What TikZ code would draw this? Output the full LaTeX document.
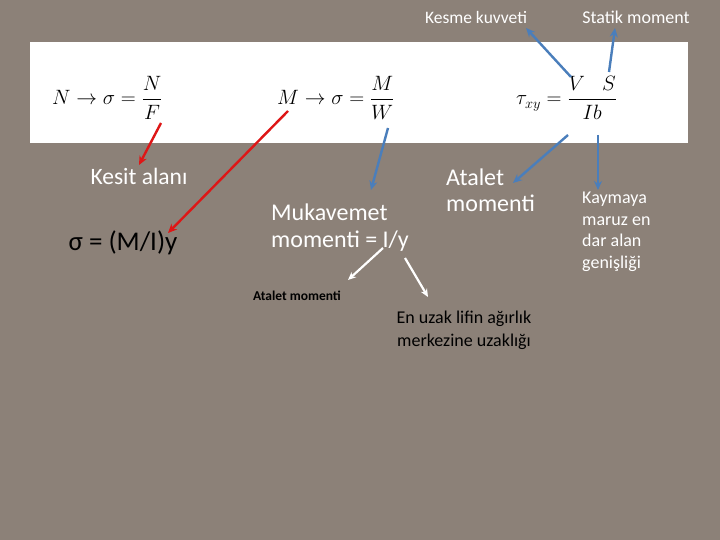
\documentclass[tikz,border=0pt]{standalone}
\usepackage{amsmath}
\usepackage{fontspec}
\setmainfont{Carlito}
\usetikzlibrary{arrows.meta}
\definecolor{granite}{RGB}{140,129,120}
\definecolor{arrred}{RGB}{222,22,22}
\definecolor{arrblue}{RGB}{74,126,187}
\tikzset{
  lbl/.style={text=white, inner sep=0pt},
  dark/.style={text=black, inner sep=0pt},
  eqn/.style={text=black, inner sep=0pt, font=\fontsize{20}{24}\selectfont},
  redarr/.style={draw=arrred, line width=2.4pt, -{Stealth[length=9pt,width=8pt]}},
  bluearr/.style={draw=arrblue, line width=2.4pt, -{Stealth[length=9pt,width=8pt]}},
  whitearr/.style={draw=white, line width=2.2pt, -{Stealth[length=8pt,width=7pt]}}
}
\begin{document}
\begin{tikzpicture}[x=1pt,y=-1pt]
\fill[granite] (0,0) rectangle (720,540);
\useasboundingbox (0,0) rectangle (720,540);
\node[fill=white, minimum width=658pt, minimum height=101pt, inner sep=0pt, anchor=north west] (box) at (30,42) {};
% equations
\node[eqn, anchor=west] (eq1) at (52,98) {$N\rightarrow\sigma=\dfrac{N}{F}$};
\node[eqn, anchor=west] (eq2) at (277,98) {$M\rightarrow\sigma=\dfrac{M}{W}$};
\node[eqn, anchor=west] (eq3) at (516,98) {$\tau_{xy}=\dfrac{V\;\;\;S}{Ib}$};
% labels
\node[lbl, font=\fontsize{17.5}{20}\selectfont] (kesme) at (476,17) {Kesme kuvveti};
\node[lbl, font=\fontsize{18}{20}\selectfont] (statik) at (636,17) {Statik moment};
\node[lbl, font=\fontsize{23.5}{27}\selectfont] (kesit) at (139,176) {Kesit alanı};
\node[dark, font=\fontsize{27}{30}\selectfont] (sigma) at (123,243) {σ = (M/I)y};
\node[lbl, font=\fontsize{24}{27}\selectfont, align=left, anchor=west] (muk) at (271,228) {Mukavemet\\momenti = I/y};
\node[lbl, font=\fontsize{24}{26}\selectfont, align=left, anchor=west] (atalet) at (446,190) {Atalet\\momenti};
\node[lbl, font=\fontsize{18}{21.5}\selectfont, align=left, anchor=west] (kay) at (582,232) {Kaymaya\\maruz en\\dar alan\\genişliği};
\node[dark, font=\fontsize{13.5}{17}\selectfont\bfseries] (atalet2) at (297,296) {Atalet momenti};
\node[dark, font=\fontsize{18}{23}\selectfont, align=center] (enuzak) at (464,330) {En uzak lifin ağırlık\\merkezine uzaklığı};
% connector start points
\coordinate (pF) at (161,123);
\coordinate (pM) at (288,111);
\coordinate (pW) at (388,128);
\coordinate (pV) at (571,77);
\coordinate (pS) at (609,72);
\coordinate (pI) at (568,135);
\coordinate (pb) at (598,135);
\coordinate (pEq) at (383,248);
\coordinate (pY) at (405,258);
% tips
\coordinate (tKesit) at (139,165);
\coordinate (tSigma) at (168,233);
\coordinate (tMuk) at (371,190);
\coordinate (tKesme) at (526,28);
\coordinate (tStatik) at (615,28);
\coordinate (tAtalet) at (513,183);
\coordinate (tKay) at (598,190);
\coordinate (tAt2) at (348,280);
\coordinate (tEn) at (428,297);
\draw[redarr] (pF) -- (tKesit);
\draw[redarr] (pM) -- (tSigma);
\draw[bluearr] (pW) -- (tMuk);
\draw[bluearr] (pV) -- (tKesme);
\draw[bluearr] (pS) -- (tStatik);
\draw[bluearr] (pI) -- (tAtalet);
\draw[bluearr] (pb) -- (tKay);
\draw[whitearr] (pEq) -- (tAt2);
\draw[whitearr] (pY) -- (tEn);
\end{tikzpicture}
\end{document}
